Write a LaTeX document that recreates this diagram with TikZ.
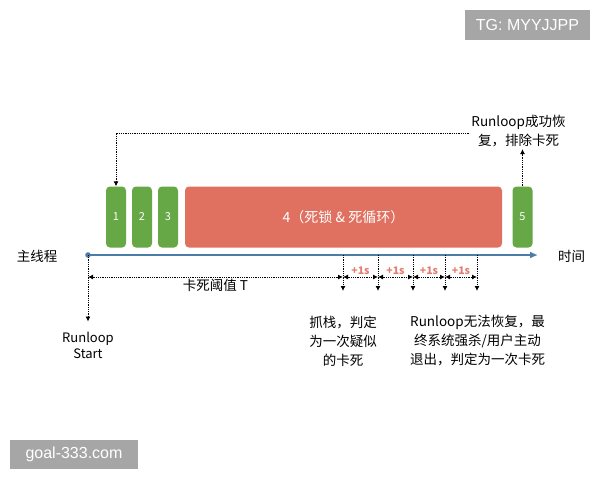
\documentclass[tikz,border=0pt]{standalone}
\usepackage{fontspec}
\setmainfont{Noto Sans CJK SC}
\newfontfamily\markfont{Liberation Sans}
\usetikzlibrary{arrows.meta,positioning,calc}
\definecolor{BlockGreen}{HTML}{66A845}
\definecolor{BlockRed}{HTML}{E0705F}
\definecolor{LineBlue}{HTML}{4C7DAA}
\definecolor{TickRed}{HTML}{E27D70}
\definecolor{MarkGray}{HTML}{A6A6A6}
\tikzset{
	block/.style={rounded corners=4pt, inner sep=0pt, minimum height=61pt, text=white},
	greenblock/.style={block, fill=BlockGreen, minimum width=20pt, font=\fontsize{11}{11}\selectfont},
	redblock/.style={block, fill=BlockRed, minimum width=317pt, font=\fontsize{14}{16}\selectfont},
	hint/.style={dash pattern=on 0.9pt off 0.9pt, line width=0.9pt},
	hintarrow/.style={hint, -{Latex[length=5pt,width=5pt]}},
	hintboth/.style={hint, {Latex[length=5pt,width=5pt]}-{Latex[length=5pt,width=5pt]}},
	note/.style={align=center, font=\fontsize{13.5}{19}\selectfont, inner sep=2pt},
	watermark/.style={fill=MarkGray, text=white, inner sep=0pt, font=\markfont\fontsize{16}{16}\selectfont}
}
\begin{document}
\begin{tikzpicture}[x=1pt,y=-1pt]
	\useasboundingbox (0,0) rectangle (600,480);
	
	% watermarks
	\node[watermark, minimum width=125pt, minimum height=30pt] (tgmark) at (527.5,25) {TG: MYYJJPP};
	\node[watermark, minimum width=128pt, minimum height=29pt] (sitemark) at (74,454.5) {goal-333.com};
	
	% runloop blocks
	\node[greenblock] (b1) at (116,217) {1};
	\node[greenblock] (b2) at (142,217) {2};
	\node[greenblock] (b3) at (168,217) {3};
	\node[redblock] (b4) at (343.5,217) {4（死锁 \& 死循环）};
	\node[greenblock] (b5) at (522.5,217) {5};
	
	% main thread
	\coordinate (start) at (88,255);
	\coordinate (tend) at (538,255);
	\draw[LineBlue, line width=2pt, -{Latex[length=8pt,width=7pt]}] (start) -- (tend);
	\fill[LineBlue] (start) circle (2.8pt);
	\node[note] (mainlabel) at (37,256) {主线程};
	\node[note] (timelabel) at (571.5,256) {时间};
	
	% recovery loop
	\node[note] (recover) at (518.5,131) {Runloop成功恢\\复，排除卡死};
	\draw[hintarrow] (b5.north) -- (b5.north |- recover.south);
	\draw[hintarrow] ([yshift=-2pt]recover.west) -| (b1.north);
	
	% runloop start
	\node[note, font=\fontsize{13}{16}\selectfont] (rlstart) at (88,345) {Runloop\\Start};
	\draw[hintarrow] (start) -- ([yshift=8pt]rlstart.north);
	
	% ticks
	\coordinate (m0) at (88,277);
	\foreach \x [count=\i] in {343,378,413,445,477} {
		\coordinate (top\i) at (\x,255);
		\coordinate (bot\i) at (\x,291);
		\coordinate (m\i) at (\x,277);
		\draw[hintarrow] (top\i) -- (bot\i);
	}
	\draw[hintboth] (m0) -- node[note, below=2pt, inner sep=0pt] (tlabel) {卡死阈值 T} (m1);
	\foreach \a/\b in {1/2,2/3,3/4,4/5}
		\draw[hintboth] (m\a) -- node[above=2pt, inner sep=0pt, text=TickRed, font=\bfseries\fontsize{10.5}{10.5}\selectfont] (sec\a) {+1s} (m\b);
	
	% verdicts
	\node[note] (suspect) at (343,341) {抓栈，判定\\为一次疑似\\的卡死};
	\node[note] (confirm) at (477.5,341) {Runloop无法恢复，最\\终系统强杀/用户主动\\退出，判定为一次卡死};
\end{tikzpicture}
\end{document}
